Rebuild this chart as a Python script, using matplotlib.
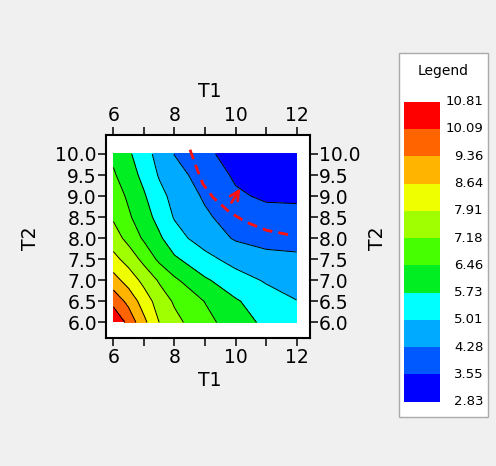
import matplotlib
matplotlib.use('Agg')
import matplotlib.pyplot as plt
import matplotlib.transforms as mtransforms
from matplotlib.patches import Rectangle

# grid (finer columns near the hot corner)
t1 = [6, 6.5, 7, 7.5, 8, 9, 10, 11, 12]
t2 = [6.0, 6.5, 7.0, 7.5, 8.0, 8.5, 9.0, 9.5, 10.0]
z = [
    [10.80, 9.85, 8.83, 7.91, 7.39, 6.68, 6.10, 5.56, 5.25],  # T2 = 6.0
    [9.85, 9.16, 8.29, 7.60, 7.09, 6.44, 5.80, 5.39, 5.03],   # 6.5
    [8.94, 8.32, 7.71, 7.10, 6.59, 5.82, 5.35, 4.93, 4.71],   # 7.0
    [8.13, 7.63, 6.97, 6.32, 5.84, 5.25, 4.73, 4.45, 4.39],   # 7.5
    [7.53, 6.94, 6.36, 5.85, 5.29, 4.66, 4.21, 4.09, 4.07],   # 8.0
    [7.09, 6.56, 6.04, 5.49, 4.96, 4.40, 3.94, 3.79, 3.75],   # 8.5
    [6.84, 6.34, 5.81, 5.23, 4.80, 4.18, 3.65, 3.45, 3.44],   # 9.0
    [6.55, 6.06, 5.53, 4.95, 4.56, 3.95, 3.45, 3.31, 3.12],   # 9.5
    [6.30, 5.84, 5.30, 4.77, 4.26, 3.68, 3.30, 3.10, 2.84],   # 10.0
]

levels = [2.83, 3.55, 4.28, 5.01, 5.73, 6.46, 7.18, 7.91, 8.64, 9.36, 10.09, 10.81]
band_colors = ['#0000FF', '#0058FF', '#00AAFF', '#00FFFF', '#00EE22', '#46FF00',
               '#A0FF00', '#F0FF00', '#FFB400', '#FF6400', '#FF0000']

# red dashed path + arrow
path_t1 = [8.51, 8.72, 8.93, 9.26, 9.80, 10.35, 11.0, 11.89]
path_t2 = [10.1, 9.68, 9.29, 8.97, 8.62, 8.38, 8.19, 8.06]
arrow_from = (9.82, 8.79)
arrow_to = (10.20, 9.24)

x_major = [6, 8, 10, 12]
x_minor = [7, 9, 11]
y_ticks = [6.0, 6.5, 7.0, 7.5, 8.0, 8.5, 9.0, 9.5, 10.0]

W, H = 496, 466
fig = plt.figure(figsize=(W / 100, H / 100), dpi=100, facecolor='#f0f0f0')

ax = fig.add_axes([106 / W, 1 - 338 / H, 203.5 / W, 203 / H])
ax.set_facecolor('white')
cf = ax.contourf(t1, t2, z, levels=levels, colors=band_colors)
ax.contour(t1, t2, z, levels=levels[1:-1], colors='k', linewidths=0.7)

ax.plot(path_t1, path_t2, color='#ff1010', lw=2.0, linestyle=(0, (3.6, 2.2)))
ax.annotate('', xy=arrow_to, xytext=arrow_from,
            arrowprops=dict(arrowstyle='->', color='#ff1010', lw=2.0, mutation_scale=16))

ax.set_xlim(5.76, 12.42)
ax.set_ylim(5.63, 10.45)
ax.set_xticks(x_major)
ax.set_xticks(x_minor, minor=True)
ax.set_yticks(y_ticks)
ax.set_yticklabels([f'{v:.1f}' for v in y_ticks])
ax.tick_params(which='both', direction='out', length=5.5, width=1.1,
               top=True, right=True, labeltop=True, labelright=True, labelsize=13.5)
ax.tick_params(axis='x', pad=2)
ax.tick_params(axis='y', pad=1)
for sp in ax.spines.values():
    sp.set_linewidth(1.5)

ax.text(0.511, 1.213, 'T1', transform=ax.transAxes, ha='center', va='center', fontsize=13.5)
ax.text(0.511, -0.207, 'T1', transform=ax.transAxes, ha='center', va='center', fontsize=13.5)
ax.text(-0.373, 0.49, 'T2', transform=ax.transAxes, ha='center', va='center',
        rotation=90, fontsize=13.5)
ax.text(1.336, 0.49, 'T2', transform=ax.transAxes, ha='center', va='center',
        rotation=90, fontsize=13.5)

# legend box
frame = Rectangle((399.3 / W, 1 - 416.7 / H), 89 / W, 363.4 / H, transform=fig.transFigure,
                  facecolor='white', edgecolor='#aaaaaa', lw=1, zorder=-1)
fig.patches.append(frame)
fig.text(443 / W, 1 - 70.7 / H, 'Legend', ha='center', va='center', fontsize=10)

cax = fig.add_axes([404.3 / W, 1 - 401.7 / H, 35.7 / W, 300 / H])
cb = fig.colorbar(cf, cax=cax, ticks=[])
cb.outline.set_visible(False)
trans = mtransforms.blended_transform_factory(cax.transAxes, cax.transData)
for lev in levels:
    cax.text(2.213, lev, f'{lev:.2f}', transform=trans, ha='right', va='center', fontsize=9.5)

fig.savefig('out.png', dpi=100, facecolor=fig.get_facecolor())
